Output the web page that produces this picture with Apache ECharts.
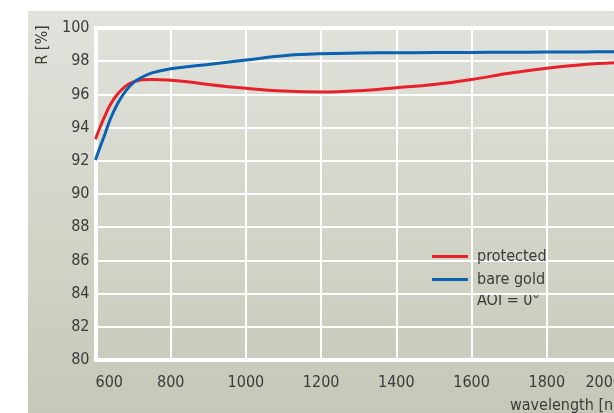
<!DOCTYPE html>
<html>
<head>
<meta charset="utf-8">
<script src="https://cdn.jsdelivr.net/npm/echarts@6/dist/echarts.min.js"></script>
<style>
  html, body { margin: 0; padding: 0; background: #ffffff; }
  #chart { width: 614px; height: 413px; }
</style>
</head>
<body>
<div id="chart"></div>
<script>
// Reflectance of gold mirrors vs. wavelength (AOI = 0°)
const wavelengths = [600, 610, 625, 640, 660, 680, 700, 725, 750, 800, 850, 900, 1000, 1100, 1200, 1300, 1400, 1500, 1600, 1700, 1800, 1900, 2000];
const protectedR  = [93.3, 93.9, 94.7, 95.4, 96.05, 96.5, 96.75, 96.88, 96.9, 96.85, 96.75, 96.6, 96.37, 96.2, 96.14, 96.22, 96.4, 96.6, 96.9, 97.27, 97.57, 97.8, 97.93];
const bareGoldR   = [92.05, 92.7, 93.6, 94.55, 95.5, 96.2, 96.7, 97.05, 97.3, 97.55, 97.68, 97.8, 98.07, 98.33, 98.45, 98.49, 98.51, 98.52, 98.53, 98.54, 98.55, 98.56, 98.57];
const seriesNames = ['protected', 'bare gold'];
const noteText = 'AOI = 0°';
const xTitle = 'wavelength [nm]';
const yTitle = 'R [%]';

const FONT = "'DejaVu Sans Condensed', 'Liberation Sans', sans-serif";
const TXT = '#3b3b3b';

const chart = echarts.init(document.getElementById('chart'), null, { renderer: 'canvas' });

const pair = (xs, ys) => xs.map((x, i) => [x, ys[i]]);

chart.setOption({
  backgroundColor: '#ffffff',
  animation: false,
  textStyle: { fontFamily: FONT },
  grid: { left: 95.5, top: 28, width: 526.5, height: 332, outerBoundsMode: 'none', containLabel: false },
  graphic: [
    {
      type: 'rect', z: -10, silent: true,
      shape: { x: 28, y: 11, width: 600, height: 410 },
      style: {
        fill: new echarts.graphic.LinearGradient(0, 0, 0, 1, [
          { offset: 0, color: '#e1e2dc' },
          { offset: 1, color: '#c5c8b7' }
        ])
      }
    },
    {
      type: 'text', silent: true, rotation: Math.PI / 2, x: 43, y: 45,
      style: { text: yTitle, font: '16px ' + FONT, fill: TXT, align: 'center', verticalAlign: 'middle' }
    },
    {
      type: 'text', silent: true, x: 510, y: 406,
      style: { text: xTitle, font: '16px ' + FONT, fill: TXT, verticalAlign: 'middle' }
    },
    {
      type: 'text', silent: true, x: 477, y: 301,
      style: { text: noteText, font: '16px ' + FONT, fill: TXT, verticalAlign: 'middle' }
    }
  ],
  legend: {
    orient: 'vertical',
    left: 432, top: 248.5, padding: 0,
    itemWidth: 36, itemHeight: 3, itemGap: 7,
    icon: 'rect',
    textStyle: { fontFamily: FONT, fontSize: 16, color: TXT, padding: [0, 0, 0, 4] },
    data: seriesNames
  },
  xAxis: [
    {
      type: 'value', min: 600, max: 2000, interval: 200,
      axisLine: { show: true, onZero: false, lineStyle: { color: '#ffffff', width: 4 } },
      axisTick: { show: false },
      axisLabel: {
        color: TXT, fontSize: 16, fontFamily: FONT, margin: 15,
        alignMinLabel: 'left', alignMaxLabel: 'right',
        showMaxLabel: true, formatter: v => String(v)
      },
      splitLine: { show: true, lineStyle: { color: '#ffffff', width: 2 } }
    },
    {
      type: 'value', position: 'top', min: 600, max: 2000,
      axisLine: { show: true, lineStyle: { color: '#ffffff', width: 4 } },
      axisTick: { show: false }, axisLabel: { show: false }, splitLine: { show: false }
    }
  ],
  yAxis: {
    type: 'value', min: 80, max: 100, interval: 2,
    axisLine: { show: true, lineStyle: { color: '#ffffff', width: 4 } },
    axisTick: { show: false },
    axisLabel: { color: TXT, fontSize: 16, fontFamily: FONT, margin: 6, formatter: v => String(v) },
    splitLine: { show: true, lineStyle: { color: '#ffffff', width: 2 } }
  },
  series: [
    {
      name: seriesNames[0], type: 'line', smooth: 0.4, showSymbol: false,
      data: pair(wavelengths, protectedR),
      lineStyle: { color: '#e8202a', width: 3 }, itemStyle: { color: '#e8202a' }, z: 3
    },
    {
      name: seriesNames[1], type: 'line', smooth: 0.4, showSymbol: false,
      data: pair(wavelengths, bareGoldR),
      lineStyle: { color: '#0a62b0', width: 3 }, itemStyle: { color: '#0a62b0' }, z: 4
    }
  ]
});
</script>
</body>
</html>
